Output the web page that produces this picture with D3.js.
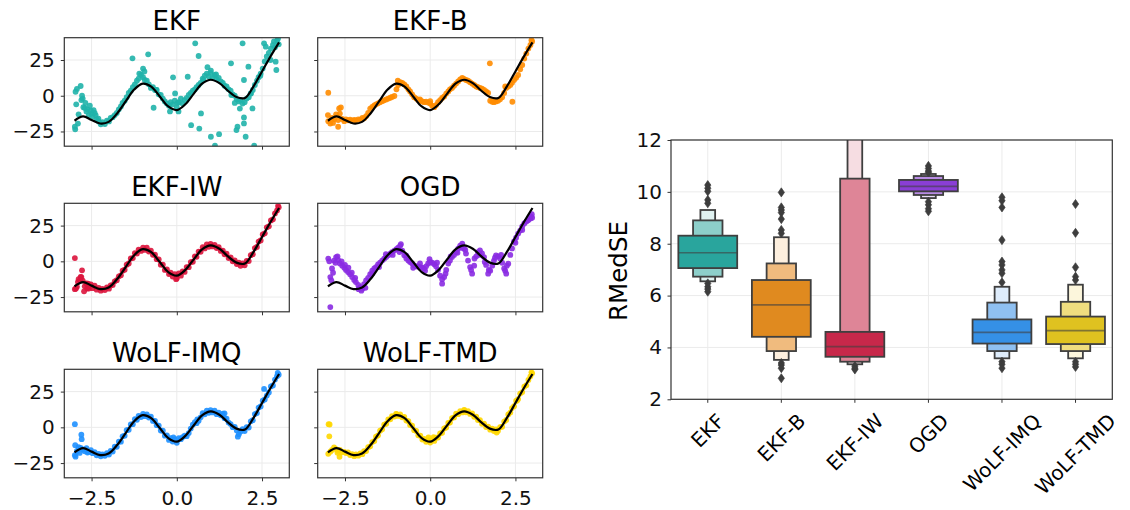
<!DOCTYPE html>
<html lang="en">
  <head>
    <meta charset="UTF-8" />
    <title>Filters on a nonlinear regression</title>
    <style>
      body { margin: 0; background: #fff; }
      svg { display: block; font-family: "DejaVu Sans", sans-serif; }
      .grid line { stroke: #ebebeb; stroke-width: 1; }
    </style>
  </head>
  <body>
    <div id="chart"></div>

    <script src="https://cdn.jsdelivr.net/npm/d3@7/dist/d3.min.js"></script>
    <script>

      var methods = ["EKF", "EKF-B", "EKF-IW", "OGD", "WoLF-IMQ", "WoLF-TMD"];
      var colors = ["#20b2aa", "#ff8c00", "#dc143c", "#8a2be2", "#1e90ff", "#ffd700"];

      // true function (black line)
      var truthX = [-3, -2.75, -2.5, -2.25, -2, -1.75, -1.5, -1.25, -1, -0.75, -0.5, -0.25, 0,
                    0.25, 0.5, 0.75, 1, 1.25, 1.5, 1.75, 2, 2.25, 2.5, 2.75, 3];
      var truthY = [-17.5, -14.5, -17.0, -19.4, -18.3, -12.4, -4.0, 4.3, 8.5, 6.4, -0.5, -7.5, -10.0,
                    -6.0, 1.5, 8.6, 11.2, 8.8, 3.5, -0.9, -1.5, 6.6, 17.0, 27.5, 37.3];

      // inputs shared by every panel
      var xs = [
        -2.99, -2.93, -2.88, -2.82, -2.76, -2.70, -2.65, -2.58, -2.52, -2.47,
        -2.41, -2.35, -2.29, -2.23, -2.18, -2.11, -2.05, -1.99, -1.94, -1.88,
        -1.82, -1.76, -1.70, -1.64, -1.59, -1.53, -1.47, -1.41, -1.35, -1.29,
        -1.23, -1.17, -1.12, -1.05, -0.99, -0.94, -0.88, -0.82, -0.76, -0.70,
        -0.64, -0.59, -0.53, -0.47, -0.41, -0.35, -0.29, -0.23, -0.18, -0.12,
        -0.06, 0.00, 0.06, 0.12, 0.17, 0.23, 0.29, 0.35, 0.41, 0.47,
        0.53, 0.58, 0.64, 0.70, 0.76, 0.82, 0.88, 0.94, 0.99, 1.05,
        1.11, 1.17, 1.23, 1.29, 1.35, 1.40, 1.46, 1.52, 1.58, 1.64,
        1.70, 1.76, 1.82, 1.87, 1.93, 1.99, 2.05, 2.11, 2.17, 2.23,
        2.29, 2.35, 2.40, 2.46, 2.52, 2.58, 2.64, 2.70, 2.76, 2.82,
        2.88, 2.94, 2.99];

      // predictions of each method at xs
      var ekfY = [
        -21.7, 4.8, -13.0, 6.8, -2.0, -8.5, -11.0, -13.5, -10.5, -14.5,
        -12.0, -16.5, -18.0, -20.0, -18.5, -19.8, -17.5, -18.0, -15.5, -15.0,
        -13.5, -12.0, -9.5, -7.5, -5.0, -3.5, -1.0, 2.0, 3.5, 6.0,
        8.0, 10.5, 12.0, 14.5, 13.0, 11.0, 10.5, 8.0, 5.5, 6.0,
        4.0, 4.0, 1.0, 0.5, -2.0, -4.0, -5.5, -7.0, -4.5, -6.0,
        -3.5, -8.0, -4.5, -2.0, -5.5, -3.0, -1.5, 0.5, 2.0, 3.5,
        4.5, 6.0, 7.5, 9.0, 12.0, 14.0, 15.5, 13.5, 16.0, 12.5,
        14.5, 11.5, 12.5, 10.0, 9.0, 7.0, 6.5, 4.5, 3.5, 1.0,
        0.0, -2.5, -4.0, -3.0, -5.5, -4.5, -2.0, -1.0, 1.5, 4.0,
        7.5, 10.5, 13.0, 15.5, 19.0, 24.0, 27.5, 30.0, 33.0, 35.5,
        34.0, 38.5, 36.0];
      var ekfBY = [
        -17.8, -19.5, -15.5, -16.5, -13.0, -17.0, -12.5, -16.2, -17.8, -16.5,
        -17.2, -16.8, -17.5, -16.9, -17.2, -16.5, -16.8, -15.5, -15.8, -14.2,
        -12.0, -9.0, -7.8, -6.8, -6.0, -5.3, -4.5, -3.8, -3.2, -2.6,
        -2.0, -1.4, -0.8, -0.2, 4.5, 7.5, 9.5, 9.0, 8.0, 6.5,
        4.5, 3.0, 1.0, -1.0, -2.0, -3.0, -3.5, -4.0, -4.5, -4.2,
        -4.8, -5.5, -7.0, -8.0, -6.5, -4.5, -3.0, -1.5, -0.5, 1.5,
        3.0, 4.5, 5.5, 7.0, 8.5, 10.0, 11.5, 12.5, 11.8, 11.0,
        10.5, 9.5, 8.5, 7.5, 6.5, 6.0, 5.5, 5.0, 4.0, 3.0,
        2.0, -3.5, -4.2, -4.5, -4.0, -3.5, -2.5, -1.0, 2.0, 5.5,
        6.5, 7.5, 9.0, 11.0, 12.5, 14.5, 18.5, 21.5, 26.0, 29.5,
        33.0, 35.5, 38.0];
      var ekfIwY = [
        -19.5, -17.8, -12.5, -10.8, -13.5, -17.5, -15.5, -19.0, -16.2, -18.8,
        -17.0, -19.8, -18.5, -20.5, -19.2, -20.1, -18.3, -19.1, -16.9, -16.5,
        -14.0, -13.2, -10.5, -9.8, -6.6, -5.9, -2.4, -1.5, 2.0, 2.3,
        5.7, 5.4, 8.2, 7.3, 9.6, 8.0, 9.5, 6.8, 7.5, 4.6,
        4.6, 1.5, 1.3, -2.3, -2.3, -6.0, -5.7, -8.9, -7.9, -10.6,
        -8.9, -11.8, -8.5, -10.0, -7.0, -7.4, -4.0, -4.1, -0.5, -0.3,
        3.5, 3.2, 6.8, 6.7, 9.9, 9.0, 11.8, 10.2, 12.2, 10.4,
        11.5, 9.3, 9.9, 7.3, 7.5, 4.9, 5.3, 2.3, 2.8, 0.0,
        0.6, -1.9, -0.9, -3.1, -1.5, -2.8, 0.3, 0.2, 4.3, 5.0,
        9.3, 10.1, 13.8, 14.6, 18.8, 19.6, 23.8, 24.5, 28.6, 29.4,
        33.5, 35.6, 37.9];
      var ogdY = [
        1.9, -11.0, -5.0, 0.5, 3.0, 1.0, -1.5, -3.0, -4.5, -6.0,
        -7.5, -9.0, -11.0, -13.0, -14.5, -16.5, -18.0, -19.2, -16.0, -13.3,
        -11.5, -9.0, -6.5, -5.0, -4.0, -2.2, -1.0, 0.5, 1.8, 3.0,
        4.2, 5.3, 6.5, 7.5, 8.5, 9.6, 11.0, 7.5, 4.2, 2.0,
        0.5, -0.5, -1.5, -2.8, -3.5, -3.8, -4.0, -4.5, -5.0, -3.5,
        -1.5, -0.5, -1.0, -2.0, -3.5, -6.0, -10.0, -15.6, -11.0, -6.0,
        -1.5, 0.5, 3.0, 4.5, 6.5, 8.9, 11.0, 12.4, 9.0, 5.4,
        0.5, -4.0, -8.6, -3.0, 3.5, 6.5, 7.7, 5.5, 3.0, -2.5,
        -8.6, -6.5, -3.0, 0.5, 4.2, 3.5, 1.9, -1.0, -5.0, -8.6,
        -1.6, 4.5, 9.0, 14.0, 16.5, 19.4, 21.5, 24.5, 26.5, 27.8,
        29.0, 30.0, 30.5];
      var imqY = [
        -19.5, -16.5, -13.8, -14.3, -15.5, -16.8, -14.6, -17.2, -15.9, -18.1,
        -17.4, -19.6, -18.6, -20.3, -19.0, -19.9, -18.1, -19.0, -16.5, -16.9,
        -13.5, -13.6, -10.0, -10.0, -6.3, -5.8, -2.0, -1.7, 2.0, 2.2,
        5.7, 5.3, 8.0, 7.2, 9.4, 7.8, 9.1, 6.8, 7.4, 4.5,
        4.5, 1.5, 1.2, -2.2, -2.4, -5.8, -5.6, -8.8, -7.6, -9.9,
        -8.2, -10.8, -7.5, -8.3, -6.8, -5.9, -6.2, -4.0, -0.9, 1.8,
        3.6, 2.9, 4.6, 7.0, 9.9, 9.1, 11.6, 10.2, 12.0, 10.4,
        11.6, 9.2, 10.3, 8.4, 9.5, 6.4, 6.0, 3.3, 2.3, 0.1,
        0.3, -2.2, -4.8, -2.9, -1.2, -2.6, 0.2, -0.1, 4.2, 5.0,
        9.3, 10.0, 13.8, 14.6, 18.6, 19.5, 22.2, 24.4, 28.6, 29.3,
        33.4, 35.8, 36.8];
      var tmdY = [
        -18.5, -17.0, -15.8, -14.0, -15.2, -16.5, -15.8, -17.5, -17.2, -18.0,
        -17.6, -19.4, -18.7, -20.2, -18.9, -19.8, -18.3, -18.8, -16.7, -16.6,
        -13.9, -13.3, -10.3, -9.6, -6.5, -5.6, -2.3, -1.4, 1.9, 2.5,
        5.5, 5.6, 7.9, 7.5, 9.2, 8.0, 9.0, 7.0, 7.3, 4.7,
        4.4, 1.7, 1.1, -2.0, -2.5, -5.6, -5.8, -8.5, -8.1, -10.1,
        -9.2, -10.6, -8.9, -9.5, -7.3, -7.1, -4.3, -3.8, -0.8, -0.1,
        3.1, 3.4, 6.5, 6.9, 9.5, 9.2, 11.3, 10.4, 11.9, 10.5,
        11.4, 9.4, 9.8, 7.4, 7.4, 5.1, 5.1, 2.5, 2.6, 0.2,
        0.5, -1.6, -1.0, -2.6, -1.4, -2.3, 0.1, 0.4, 4.0, 5.2,
        9.0, 10.3, 13.5, 14.8, 18.5, 19.8, 23.6, 24.7, 28.4, 29.5,
        33.2, 35.7, 37.8];

      // extra / stray points per method, [x, y]
      var ekfExtra = [[-2.98, -23.5], [-2.97, 2.8], [-2.95, -6.0], [-2.9, -19.5], [-2.8, -3.0], [-2.78, 0.0],
        [-2.74, -8.0], [-2.68, -5.0], [-2.62, -9.5], [-2.55, -7.0], [-2.5, -12.5], [-2.44, -10.0], [-2.38, -13.5],
        [-2.3, -16.0], [-1.30, 26.2], [-0.84, 29.0], [-0.99, 19.0], [-0.95, 17.0], [-1.1, 15.5], [-0.68, -8.4],
        [-0.6, 4.0], [-0.11, 12.9], [-0.05, 1.6], [0.02, -5.0], [0.05, -11.0], [-0.2, -11.0], [0.42, -20.6],
        [0.32, 13.3], [0.66, -23.0], [0.71, -12.4], [0.54, 36.7], [0.64, 27.8], [1.0, -28.7], [1.24, -26.9],
        [1.12, -35.0], [0.78, 11.0], [0.9, 20.0], [1.0, 17.5], [1.15, 15.0], [1.59, 22.7], [1.93, 36.7],
        [1.97, 11.0], [2.1, 20.3], [1.78, -21.7], [1.75, -24.0], [1.97, -19.4], [2.02, -28.7], [1.97, -15.2],
        [2.22, -8.9], [2.17, 1.6], [2.27, -35.0], [1.85, -9.0], [1.7, -5.0], [1.6, 0.5], [2.9, 23.8],
        [2.92, 18.0], [2.61, 34.3], [2.56, 36.7], [2.97, 40.0], [2.85, 38.0], [2.75, 25.0], [2.45, 14.0]];
      var ekfBExtra = [[-2.99, 2.1], [-3.0, -13.5], [-2.67, -8.9], [-2.62, -8.2], [-2.7, -21.7], [-2.85, -19.0],
        [1.75, 22.7], [2.41, -4.2], [-0.95, 10.5], [0.0, -3.8], [-0.3, -2.5], [2.97, 38.8], [2.2, 6.5]];
      var ekfIwExtra = [[-2.99, 2.3], [-2.78, -6.3], [-2.8, -11.0], [-2.84, -13.3], [-2.6, -15.6], [-2.63, -19.0],
        [-2.96, -19.0], [-2.9, -14.5], [-2.72, -21.0], [2.97, 38.8], [-0.02, -12.5]];
      var ogdExtra = [[-2.93, -32.0], [-2.96, 0.0], [-2.9, -13.3], [-2.85, -8.0], [-2.78, -1.0], [-2.72, 3.5],
        [-2.6, 0.0], [-2.5, -2.5], [-2.4, -4.5], [-2.3, -8.0], [-2.2, -11.5], [-2.1, -19.5], [-2.02, -20.5],
        [-1.9, -18.5], [-1.7, -8.5], [-1.5, -4.0], [-1.3, 5.0], [-1.1, 4.5], [-0.9, 6.5], [-0.86, 12.0],
        [-0.7, 4.0], [-0.5, -4.5], [-0.3, -1.5], [-0.15, -6.5], [-0.02, 1.5], [0.2, -1.0], [0.35, -12.5],
        [0.45, -8.6], [0.6, 3.5], [0.8, 6.0], [0.92, 9.5], [1.03, 8.0], [1.2, -6.0], [1.3, 2.0], [1.45, 4.5],
        [1.6, -0.5], [1.72, -6.0], [1.9, 2.5], [2.08, 4.5], [2.2, -6.5], [2.25, -3.0], [2.5, 13.0], [2.7, 22.0],
        [2.86, 28.7], [2.95, 31.5], [2.98, 33.0]];
      var imqExtra = [[-2.99, 2.2], [-2.98, -12.5], [-2.8, -5.2], [-2.79, -8.3], [-2.97, -20.5], [-2.85, -17.9],
        [-2.62, -17.6], [2.56, 26.9], [1.79, -6.5], [1.4, 9.8], [2.96, 38.0], [-0.1, -7.0], [0.6, 5.5]];
      var tmdExtra = [[-2.98, 2.2], [-2.95, 2.0], [-2.96, -6.3], [-2.66, -20.6], [-2.72, -17.8], [-0.05, -7.0],
        [0.1, -6.8], [1.95, -3.6], [2.97, 38.5], [2.55, 18.8], [-1.0, 9.4], [1.0, 12.2]];

      var xTicks = [-2.5, 0, 2.5];
      var yTicks = [-25, 0, 25];

      // RMedSE letter-value boxes (levels 1..3), median and outliers
      var boxMedian = [7.65, 5.64, 4.03, 10.21, 4.58, 4.65];
      var lv1Lo = [7.06, 4.41, 3.64, 10.02, 4.15, 4.13];
      var lv1Hi = [8.31, 6.60, 4.60, 10.46, 5.08, 5.19];
      var lv2Lo = [6.73, 3.86, 3.45, 9.88, 3.86, 3.86];
      var lv2Hi = [8.90, 7.24, 10.51, 10.61, 5.73, 5.76];
      var lv3Lo = [6.55, 3.52, 3.35, 9.76, 3.58, 3.58];
      var lv3Hi = [9.30, 8.25, 14.0, 10.69, 6.34, 6.42];
      var outliers = [
        [10.26, 10.14, 10.02, 9.69, 9.56, 6.47, 6.34, 6.25, 6.15],
        [9.98, 9.40, 9.30, 9.20, 8.95, 8.53, 8.40, 3.40, 3.32, 3.20, 2.81],
        [3.28, 3.20, 3.15],
        [11.0, 10.9, 10.8, 10.75, 9.62, 9.50, 9.35, 9.25],
        [9.79, 9.66, 9.40, 8.14, 7.31, 7.18, 6.99, 6.86, 6.51, 3.45, 3.35, 3.20],
        [9.53, 8.42, 7.09, 6.73, 6.60, 3.45, 3.35, 3.25]];
      var boxTicks = [2, 4, 6, 8, 10, 12];
      var lv1Fill = ["#29a59d", "#e08a1f", "#c7284a", "#8a3ed6", "#3590e6", "#dfc220"];
      var lv2Fill = ["#8dcfca", "#f0bb7e", "#de8597", "#b98ce4", "#8fc0f1", "#efdd7f"];
      var lv3Fill = ["#e0f2f1", "#fdefde", "#f6dde2", "#e9dcf6", "#deecfb", "#fcf6dc"];

      var svg = d3.select("#chart").append("svg")
                  .attr("width", 1130)
                  .attr("height", 510);

//small multiples
      var panelW = 225, panelH = 108.5;
      var colX = [64.3, 317.7];
      var rowY = [37.7, 203.3, 369.3];
      var panelY = [ekfY, ekfBY, ekfIwY, ogdY, imqY, tmdY];
      var panelExtra = [ekfExtra, ekfBExtra, ekfIwExtra, ogdExtra, imqExtra, tmdExtra];

      var x = d3.scaleLinear().domain([-3.3, 3.3]).range([0, panelW]);
      var y = d3.scaleLinear().domain([-35.3, 40.6]).range([panelH, 0]);

      var truth = truthX.map(function(v, k) { return [v, truthY[k]]; });
      var truthLine = d3.line()
                        .x(function(d) { return x(d[0]); })
                        .y(function(d) { return y(d[1]); })
                        .curve(d3.curveCatmullRom);
      var blank = function() { return ""; };

      methods.forEach(function(name, i) {
        var col = i % 2, row = Math.floor(i / 2);
        var g = svg.append("g")
                   .attr("transform", "translate(" + colX[col] + "," + rowY[row] + ")");

        g.append("clipPath").attr("id", "clip" + i)
         .append("rect").attr("width", panelW).attr("height", panelH);

        g.append("g").attr("class", "grid")
         .selectAll("line").data(xTicks).enter().append("line")
         .attr("x1", x).attr("x2", x).attr("y1", 0).attr("y2", panelH);
        g.append("g").attr("class", "grid")
         .selectAll("line").data(yTicks).enter().append("line")
         .attr("x1", 0).attr("x2", panelW).attr("y1", y).attr("y2", y);

        var pts = xs.map(function(v, k) { return [v, panelY[i][k]]; }).concat(panelExtra[i]);
        g.append("g")
         .attr("clip-path", "url(#clip" + i + ")")
         .selectAll("circle").data(pts).enter().append("circle")
         .attr("cx", function(d) { return x(d[0]); })
         .attr("cy", function(d) { return y(d[1]); })
         .attr("r", 2.9)
         .attr("fill", colors[i])
         .attr("fill-opacity", 0.9);

        g.append("path").datum(truth)
         .attr("clip-path", "url(#clip" + i + ")")
         .attr("d", truthLine)
         .attr("fill", "none")
         .attr("stroke", "#000")
         .attr("stroke-width", 2.2);

        var xAxis = d3.axisBottom(x).tickValues(xTicks).tickSize(3.5).tickPadding(9.8)
                      .tickFormat(row == 2 ? d3.format(".1f") : blank);
        var yAxis = d3.axisLeft(y).tickValues(yTicks).tickSize(3.5).tickPadding(6)
                      .tickFormat(col == 0 ? d3.format("d") : blank);
        g.append("g").attr("transform", "translate(0," + panelH + ")").call(xAxis);
        g.append("g").call(yAxis);

        g.append("rect")
         .attr("width", panelW).attr("height", panelH)
         .attr("fill", "none").attr("stroke", "#333").attr("stroke-width", 1.2);

        g.append("text")
         .attr("x", panelW / 2).attr("y", -7.5)
         .attr("text-anchor", "middle")
         .attr("font-size", 26)
         .text(name);
      });

//boxen plot
      var bx = d3.scaleBand().domain(methods).range([671, 1112.3]);
      var by = d3.scaleLinear().domain([2, 12]).range([399.3, 140]);
      var bw = bx.bandwidth();
      var cx = function(m) { return bx(m) + bw / 2; };

      svg.append("clipPath").attr("id", "boxclip")
         .append("rect").attr("x", 671).attr("y", 140).attr("width", 441.3).attr("height", 259.3);

      svg.append("g").attr("class", "grid")
         .selectAll("line").data(boxTicks).enter().append("line")
         .attr("x1", 671).attr("x2", 1112.3).attr("y1", by).attr("y2", by);
      svg.append("g").attr("class", "grid")
         .selectAll("line").data(methods).enter().append("line")
         .attr("x1", cx).attr("x2", cx).attr("y1", 140).attr("y2", 399.3);

      var boxes = svg.append("g").attr("clip-path", "url(#boxclip)");
      var levels = [
        { lo: lv3Lo, hi: lv3Hi, fill: lv3Fill, frac: 0.2 },
        { lo: lv2Lo, hi: lv2Hi, fill: lv2Fill, frac: 0.4 },
        { lo: lv1Lo, hi: lv1Hi, fill: lv1Fill, frac: 0.8 }];

      levels.forEach(function(lv) {
        boxes.append("g").selectAll("rect").data(methods).enter().append("rect")
             .attr("x", function(m) { return cx(m) - bw * lv.frac / 2; })
             .attr("width", bw * lv.frac)
             .attr("y", function(m, i) { return by(lv.hi[i]); })
             .attr("height", function(m, i) { return by(lv.lo[i]) - by(lv.hi[i]); })
             .attr("fill", function(m, i) { return lv.fill[i]; })
             .attr("stroke", "#3f3f3f")
             .attr("stroke-width", 1.8);
      });

      boxes.append("g").selectAll("line").data(methods).enter().append("line")
           .attr("x1", function(m) { return cx(m) - bw * 0.4; })
           .attr("x2", function(m) { return cx(m) + bw * 0.4; })
           .attr("y1", function(m, i) { return by(boxMedian[i]); })
           .attr("y2", function(m, i) { return by(boxMedian[i]); })
           .attr("stroke", "#3f3f3f")
           .attr("stroke-opacity", 0.6)
           .attr("stroke-width", 1.6);

      var diamond = d3.symbol().type(d3.symbolDiamond).size(24);
      methods.forEach(function(m, i) {
        boxes.append("g").selectAll("path").data(outliers[i]).enter().append("path")
             .attr("d", diamond)
             .attr("transform", function(v) { return "translate(" + cx(m) + "," + by(v) + ") scale(1.2,1)"; })
             .attr("fill", "#3d3d3d")
             .attr("stroke", "#3d3d3d")
             .attr("stroke-width", 0.6);
      });

      svg.append("g").attr("transform", "translate(671,0)")
         .call(d3.axisLeft(by).tickValues(boxTicks).tickSize(3.5).tickPadding(5.5).tickFormat(d3.format("d")));
      svg.append("g").attr("transform", "translate(0,399.3)")
         .call(d3.axisBottom(bx).tickSize(3.5).tickFormat(blank));

      svg.append("rect")
         .attr("x", 671).attr("y", 140).attr("width", 441.3).attr("height", 259.3)
         .attr("fill", "none").attr("stroke", "#333").attr("stroke-width", 1.2);

//axis labels
      methods.forEach(function(m) {
        var t = svg.append("text")
                   .attr("font-size", 20)
                   .attr("text-anchor", "middle")
                   .attr("dy", "0.35em")
                   .text(m);
        var w = t.node().getComputedTextLength();
        var half = (w + 23) / (2 * Math.SQRT2);
        t.attr("transform", "translate(" + cx(m) + "," + (406.3 + half + 3) + ") rotate(-45)");
      });

      svg.append("text")
         .attr("transform", "translate(618,271) rotate(-90)")
         .attr("text-anchor", "middle")
         .attr("dy", "0.35em")
         .attr("font-size", 24.5)
         .text("RMedSE");

      // tidy the d3 axes
      svg.selectAll(".domain").remove();
      svg.selectAll(".tick line").attr("stroke", "#333");
      svg.selectAll(".tick text").attr("font-size", 20).attr("fill", "#111");
      svg.selectAll("g").attr("font-family", null);

    </script>
  </body>
</html>
